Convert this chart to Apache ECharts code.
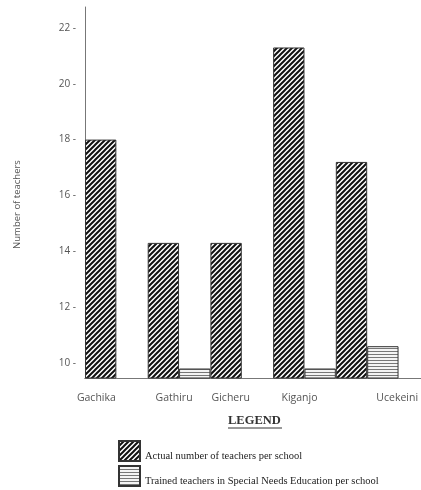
<!DOCTYPE html>
<html>
<head>
<meta charset="utf-8">
<script src="https://cdn.jsdelivr.net/npm/echarts@6/dist/echarts.min.js"></script>
<style>
html,body{margin:0;padding:0;background:#fff;}
#chart{width:421px;height:490px;}
</style>
</head>
<body>
<div id="chart"></div>
<script>
// ---- data ----
var schools = ['Gachika', 'Gathiru', 'Gicheru', 'Kiganjo', 'Ucekeini'];
var actualTeachers = [18.0, 14.3, 14.3, 21.3, 17.2];
var trainedTeachers = [null, 9.8, null, 9.8, 10.6];
var yTicks = [10, 12, 14, 16, 18, 20, 22];
var seriesNames = ['Actual number of teachers per school', 'Trained teachers in Special Needs Education per school'];
var yAxisTitle = 'Number of teachers';
var legendTitle = 'LEGEND';

// ---- styles ----
function diagPattern() {
  var s = 5, c = document.createElement('canvas');
  c.width = s; c.height = s;
  var g = c.getContext('2d');
  g.fillStyle = '#fff'; g.fillRect(0, 0, s, s);
  g.strokeStyle = '#111'; g.lineWidth = 2;
  g.beginPath();
  g.moveTo(-1, s + 1); g.lineTo(s + 1, -1);
  g.moveTo(-1, 1); g.lineTo(1, -1);
  g.moveTo(s - 1, s + 1); g.lineTo(s + 1, s - 1);
  g.stroke();
  return c;
}
function horizPattern() {
  var c = document.createElement('canvas');
  c.width = 4; c.height = 3;
  var g = c.getContext('2d');
  g.fillStyle = '#f4f4f4'; g.fillRect(0, 0, 4, 3);
  g.fillStyle = '#777'; g.fillRect(0, 0, 4, 1);
  return c;
}
var labelShift = [-20, -5, -11, -5, 30];
var rich = {};
labelShift.forEach(function (d, i) {
  rich['c' + i] = { padding: d < 0 ? [0, -2 * d, 0, 0] : [0, 0, 0, 2 * d], fontSize: 10.5, color: '#555', fontFamily: 'Open Sans' };
});

var chart = echarts.init(document.getElementById('chart'));
chart.setOption({
  animation: false,
  backgroundColor: '#fff',
  grid: [
    { left: 85, right: 22, top: 7, bottom: 112 },
    { left: 85, right: 0, top: 7, bottom: 112 }
  ],
  xAxis: [
    {
      type: 'category', gridIndex: 0, data: schools,
      axisLine: { show: true, lineStyle: { color: '#777', width: 1 } },
      axisTick: { show: false },
      axisLabel: {
        interval: 0, margin: 15,
        formatter: function (v, i) { return '{c' + i + '|' + v + '}'; },
        rich: rich
      }
    },
    {
      type: 'value', gridIndex: 1, min: 0, max: 1,
      axisLine: { show: true, lineStyle: { color: '#777', width: 1 } },
      axisTick: { show: false }, axisLabel: { show: false }, splitLine: { show: false }
    }
  ],
  yAxis: [
    {
      type: 'value', gridIndex: 0, min: 9.46, max: 22.75,
      name: yAxisTitle, nameLocation: 'middle', nameGap: 63,
      nameTextStyle: { fontSize: 9.5, color: '#555', fontFamily: 'Open Sans', padding: [0, 24, 0, 0] },
      axisLine: { show: true, lineStyle: { color: '#777', width: 1 } },
      axisTick: { show: false },
      splitLine: { show: false },
      axisLabel: {
        customValues: yTicks, margin: 9, fontSize: 10, color: '#555', fontFamily: 'Open Sans',
        formatter: '{value} -'
      }
    },
    { type: 'value', gridIndex: 1, show: false, min: 0, max: 1 }
  ],
  legend: {
    orient: 'vertical', left: 118, top: 440, padding: 0,
    itemWidth: 21, itemHeight: 20, itemGap: 3, icon: 'rect',
    formatter: '{t|{name}}',
    textStyle: {
      fontFamily: 'Liberation Serif', fontSize: 10.5, color: '#222',
      rich: { t: { fontFamily: 'Liberation Serif', fontSize: 10.5, color: '#222', padding: [10, 0, 0, 0] } }
    },
    data: seriesNames
  },
  title: {
    text: legendTitle, left: 228, top: 414, padding: 0,
    textStyle: { fontFamily: 'Liberation Serif', fontWeight: 'bold', fontSize: 12.5, color: '#333' }
  },
  graphic: [
    { type: 'line', shape: { x1: 228, y1: 428, x2: 282, y2: 428 }, style: { stroke: '#333', lineWidth: 1 } }
  ],
  series: [
    {
      name: seriesNames[0], type: 'bar', xAxisIndex: 0, yAxisIndex: 0,
      data: actualTeachers, barGap: 0, barCategoryGap: 0, clip: true,
      itemStyle: { color: { image: diagPattern(), repeat: 'repeat' }, borderColor: '#333', borderWidth: 1 }
    },
    {
      name: seriesNames[1], type: 'bar', xAxisIndex: 0, yAxisIndex: 0,
      data: trainedTeachers, barGap: 0, barCategoryGap: 0, clip: true,
      itemStyle: { color: { image: horizPattern(), repeat: 'repeat' }, borderColor: '#333', borderWidth: 1 }
    }
  ]
});
</script>
</body>
</html>
